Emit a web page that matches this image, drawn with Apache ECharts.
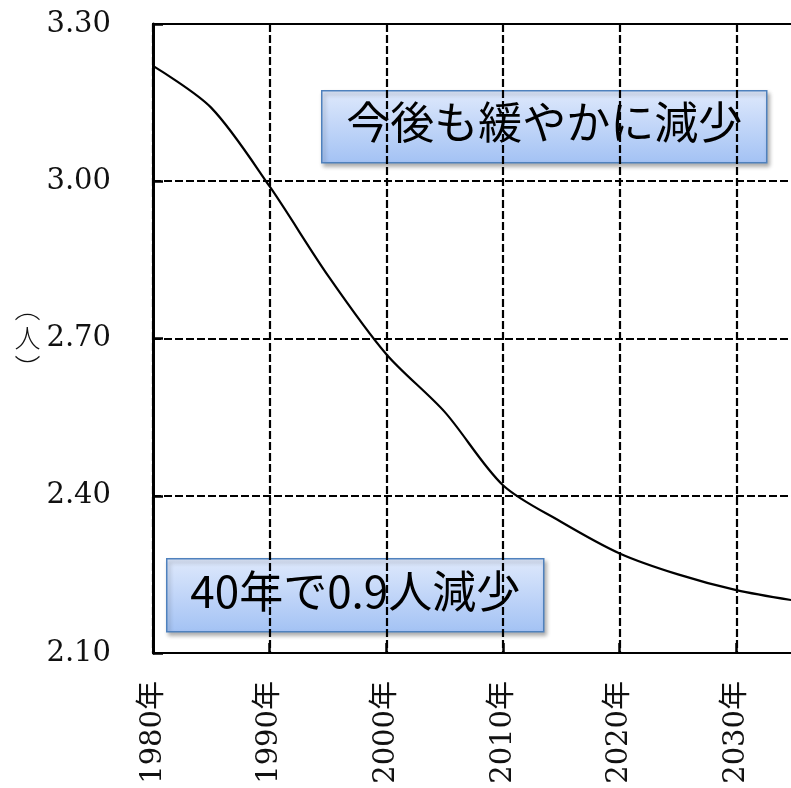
<!DOCTYPE html>
<html>
<head>
<meta charset="utf-8">
<script src="https://cdn.jsdelivr.net/npm/echarts@6/dist/echarts.min.js"></script>
<style>
  html, body { margin: 0; padding: 0; background: #fff; }
  #chart { width: 791px; height: 788px; }
</style>
</head>
<body>
<div id="chart"></div>
<script>
// Average persons per household, census years and projections
const years = [1980, 1985, 1990, 1995, 2000, 2005, 2010, 2015, 2020, 2025, 2030, 2035];
const persons = [3.22, 3.14, 2.99, 2.82, 2.67, 2.56, 2.42, 2.35, 2.29, 2.25, 2.22, 2.20];

const yTicks = { min: 2.10, max: 3.30, step: 0.30 };
const xTicks = { min: 1980, max: 2040, step: 10 };
const yUnit = '︵\n人\n︶';
const notes = ['今後も緩やかに減少', '40年で0.9人減少'];

const serif = '"DejaVu Serif", "Noto Sans CJK JP", serif';
const sans = '"Noto Sans CJK JP", "Noto Sans", sans-serif';

const chart = echarts.init(document.getElementById('chart'), null, { renderer: 'canvas' });

function noteBox(x, y, w, h, text, fontSize) {
  return {
    type: 'group',
    left: x, top: y,
    z: 100,
    children: [
      {
        type: 'rect',
        shape: { x: 0, y: 0, width: w, height: h },
        style: {
          fill: new echarts.graphic.LinearGradient(0, 0, 0, 1, [
            { offset: 0, color: '#dfe9fc' },
            { offset: 1, color: '#a3c2f4' }
          ]),
          stroke: '#4f81bd',
          lineWidth: 1.5,
          shadowColor: 'rgba(0,0,0,0.3)',
          shadowBlur: 4,
          shadowOffsetX: 2,
          shadowOffsetY: 3
        }
      },
      {
        type: 'text',
        x: w / 2, y: h / 2 - 4,
        style: {
          text: text,
          fill: '#000',
          font: fontSize + 'px ' + sans,
          textAlign: 'center',
          textVerticalAlign: 'middle'
        }
      }
    ]
  };
}

const option = {
  backgroundColor: '#fff',
  animation: false,
  // the plot area runs past the right edge of the page (to 2040)
  grid: {
    left: 153, top: 24, right: -62, bottom: 135,
    containLabel: false,
    outerBoundsMode: 'none',
    show: true, borderColor: '#000', borderWidth: 2
  },
  xAxis: {
    type: 'value',
    min: xTicks.min, max: xTicks.max, interval: xTicks.step,
    axisLine: { show: true, lineStyle: { color: '#000', width: 2 } },
    axisTick: { show: true, inside: true, length: 10, lineStyle: { color: '#000', width: 2.5 } },
    splitLine: { show: true, lineStyle: { color: '#000', width: 2.2, type: [8, 3] } },
    axisLabel: {
      rotate: 90, margin: 28,
      color: '#111', fontFamily: serif, fontSize: 29,
      formatter: v => v + '年'
    }
  },
  yAxis: {
    type: 'value',
    min: yTicks.min, max: yTicks.max, interval: yTicks.step,
    name: yUnit,
    nameLocation: 'middle', nameRotate: 0, nameGap: 108,
    nameTextStyle: { fontFamily: sans, fontSize: 26, lineHeight: 30, color: '#111', fontWeight: 300 },
    axisLine: { show: true, lineStyle: { color: '#000', width: 3 } },
    axisTick: { show: true, inside: true, length: 10, lineStyle: { color: '#000', width: 2.5 } },
    splitLine: { show: true, lineStyle: { color: '#000', width: 2.2, type: [8, 3] } },
    axisLabel: {
      margin: 42, color: '#111', fontFamily: serif, fontSize: 29,
      formatter: v => v.toFixed(2)
    }
  },
  series: [{
    type: 'line',
    data: years.map((y, i) => [y, persons[i]]),
    smooth: 0.3,
    showSymbol: false,
    lineStyle: { color: '#000', width: 2.2 },
    z: 5
  }],
  graphic: [
    noteBox(321, 90, 445, 72, notes[0], 44),
    noteBox(166, 558, 377, 73, notes[1], 44)
  ]
};

chart.setOption(option);
</script>
</body>
</html>
